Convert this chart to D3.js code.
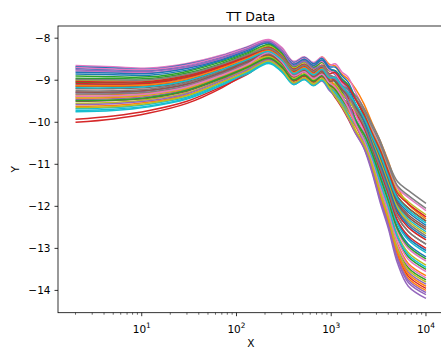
<!DOCTYPE html>
<html>
<head>
<meta charset="utf-8">
<script src="https://cdn.jsdelivr.net/npm/d3@7"></script>
<style>
  html, body { margin: 0; padding: 0; background: #fff; }
  svg { display: block; font-family: "DejaVu Sans", sans-serif; }
</style>
</head>
<body>
<div id="chart"></div>
<script>
const title = 'TT Data';
const xLabel = 'X';
const yLabel = 'Y';

// shared x grid, log spaced with extra points around the wiggles
const xs = [2, 5, 12, 30, 70, 130, 220, 300, 400, 520, 650, 800, 950, 1100, 1300, 1500, 1800, 2200, 2700, 3300, 4000, 5000, 6500, 10000];

// one array per run
const run00 = [-8.72, -8.75, -8.77, -8.65, -8.45, -8.24, -8.12, -8.32, -8.64, -8.52, -8.67, -8.54, -8.74, -8.87, -9.09, -9.29, -9.72, -10.14, -10.72, -11.28, -11.83, -12.50, -12.90, -13.20];
const run01 = [-9.35, -9.34, -9.30, -9.14, -8.86, -8.61, -8.35, -8.50, -8.80, -8.55, -8.65, -8.45, -8.62, -8.66, -8.86, -8.97, -9.20, -9.55, -10.02, -10.45, -10.92, -11.55, -11.95, -12.30];
const run02 = [-9.05, -9.06, -9.05, -8.91, -8.66, -8.44, -8.25, -8.45, -8.77, -8.65, -8.80, -8.68, -8.90, -9.04, -9.28, -9.50, -9.91, -10.30, -10.87, -11.48, -12.04, -12.76, -13.20, -13.50];
const run03 = [-9.93, -9.85, -9.72, -9.50, -9.15, -8.86, -8.55, -8.75, -9.07, -8.95, -9.10, -8.98, -9.20, -9.41, -9.66, -9.91, -10.25, -10.57, -11.08, -11.77, -12.35, -13.14, -13.66, -13.95];
const run04 = [-9.45, -9.44, -9.38, -9.22, -8.92, -8.67, -8.45, -8.68, -9.02, -8.90, -9.05, -9.00, -9.20, -9.35, -9.60, -9.87, -10.20, -10.60, -11.20, -11.92, -12.52, -13.35, -13.90, -14.19];
const run05 = [-9.15, -9.15, -9.13, -8.99, -8.73, -8.50, -8.30, -8.50, -8.83, -8.70, -8.86, -8.72, -8.92, -9.00, -9.22, -9.40, -9.73, -10.08, -10.57, -11.09, -11.63, -12.24, -12.60, -12.90];
const run06 = [-8.65, -8.68, -8.71, -8.60, -8.40, -8.20, -8.03, -8.22, -8.55, -8.44, -8.58, -8.45, -8.65, -8.61, -8.81, -8.92, -9.28, -9.68, -10.18, -10.58, -11.07, -11.56, -11.79, -12.10];
const run07 = [-9.25, -9.25, -9.21, -9.06, -8.79, -8.55, -8.38, -8.57, -8.88, -8.76, -8.90, -8.78, -8.95, -8.93, -9.13, -9.20, -9.36, -9.65, -10.05, -10.45, -10.95, -11.41, -11.62, -11.93];
const run08 = [-9.55, -9.53, -9.46, -9.30, -8.99, -8.73, -8.50, -8.70, -9.02, -8.90, -9.05, -8.92, -9.12, -9.28, -9.51, -9.72, -10.02, -10.34, -10.82, -11.41, -11.97, -12.67, -13.10, -13.40];
const run09 = [-9.75, -9.72, -9.63, -9.45, -9.12, -8.85, -8.60, -8.80, -9.10, -8.98, -9.12, -8.99, -9.18, -9.25, -9.47, -9.62, -9.80, -10.05, -10.43, -10.90, -11.42, -11.98, -12.30, -12.60];
const run10 = [-8.85, -8.87, -8.88, -8.76, -8.53, -8.32, -8.10, -8.30, -8.62, -8.50, -8.65, -8.52, -8.72, -8.82, -9.05, -9.23, -9.66, -10.08, -10.65, -11.19, -11.73, -12.37, -12.75, -13.05];
const run11 = [-9.62, -9.60, -9.52, -9.35, -9.04, -8.77, -8.42, -8.62, -8.92, -8.80, -8.96, -8.83, -9.05, -9.29, -9.54, -9.79, -10.19, -10.55, -11.11, -11.80, -12.39, -13.19, -13.71, -14.00];
const run12 = [-8.95, -8.96, -8.96, -8.83, -8.60, -8.38, -8.20, -8.40, -8.73, -8.62, -8.77, -8.66, -8.88, -9.03, -9.27, -9.51, -9.97, -10.39, -10.99, -11.64, -12.21, -12.97, -13.46, -13.75];
const run13 = [-10.00, -9.92, -9.78, -9.55, -9.18, -8.82, -8.50, -8.70, -9.02, -8.90, -9.04, -8.92, -9.12, -9.19, -9.40, -9.57, -9.81, -10.10, -10.52, -11.03, -11.55, -12.16, -12.50, -12.80];
const run14 = [-9.30, -9.30, -9.25, -9.10, -8.83, -8.58, -8.28, -8.50, -8.84, -8.72, -8.88, -8.78, -8.98, -9.13, -9.37, -9.62, -10.05, -10.45, -11.04, -11.70, -12.29, -13.06, -13.56, -13.85];
const run15 = [-9.50, -9.48, -9.42, -9.26, -8.96, -8.70, -8.48, -8.68, -9.00, -8.88, -9.02, -8.90, -9.09, -9.12, -9.33, -9.47, -9.69, -9.97, -10.38, -10.84, -11.35, -11.90, -12.20, -12.50];
const run16 = [-8.78, -8.80, -8.82, -8.70, -8.49, -8.28, -8.07, -8.28, -8.62, -8.50, -8.66, -8.54, -8.74, -8.83, -9.06, -9.27, -9.73, -10.17, -10.77, -11.35, -11.90, -12.59, -13.00, -13.30];
const run17 = [-9.10, -9.11, -9.09, -8.95, -8.69, -8.47, -8.33, -8.53, -8.85, -8.73, -8.88, -8.75, -8.95, -9.00, -9.22, -9.37, -9.67, -10.01, -10.48, -10.96, -11.49, -12.07, -12.40, -12.70];
const run18 = [-9.00, -9.01, -9.00, -8.87, -8.63, -8.41, -8.18, -8.38, -8.70, -8.58, -8.72, -8.58, -8.78, -8.77, -8.98, -9.10, -9.41, -9.76, -10.23, -10.64, -11.14, -11.64, -11.89, -12.20];
const run19 = [-9.68, -9.65, -9.57, -9.40, -9.07, -8.81, -8.56, -8.76, -9.08, -8.96, -9.10, -8.98, -9.18, -9.29, -9.52, -9.71, -9.95, -10.24, -10.67, -11.22, -11.76, -12.42, -12.80, -13.10];
const run20 = [-8.68, -8.71, -8.74, -8.62, -8.42, -8.22, -8.06, -8.26, -8.58, -8.46, -8.61, -8.48, -8.68, -8.69, -8.90, -9.04, -9.42, -9.83, -10.35, -10.80, -11.31, -11.86, -12.14, -12.45];
const run21 = [-9.42, -9.41, -9.35, -9.20, -8.90, -8.66, -8.40, -8.60, -8.92, -8.80, -8.95, -8.82, -9.02, -9.22, -9.45, -9.68, -10.05, -10.41, -10.94, -11.57, -12.15, -12.89, -13.36, -13.65];
const run22 = [-8.90, -8.92, -8.92, -8.79, -8.56, -8.35, -8.15, -8.35, -8.67, -8.55, -8.70, -8.57, -8.77, -8.77, -8.97, -9.11, -9.44, -9.81, -10.31, -10.74, -11.24, -11.77, -12.04, -12.35];
const run23 = [-9.08, -9.09, -9.07, -8.93, -8.68, -8.45, -8.28, -8.48, -8.80, -8.68, -8.83, -8.70, -8.90, -9.00, -9.22, -9.40, -9.75, -10.11, -10.62, -11.16, -11.69, -12.33, -12.70, -13.00];
const run24 = [-9.58, -9.56, -9.49, -9.32, -9.01, -8.75, -8.52, -8.74, -9.08, -8.96, -9.12, -9.02, -9.24, -9.38, -9.63, -9.88, -10.26, -10.60, -11.13, -11.83, -12.42, -13.23, -13.76, -14.05];
const run25 = [-9.20, -9.20, -9.17, -9.03, -8.76, -8.53, -8.36, -8.56, -8.88, -8.76, -8.91, -8.78, -8.98, -9.01, -9.22, -9.37, -9.64, -9.96, -10.40, -10.87, -11.38, -11.94, -12.25, -12.55];
const run26 = [-8.70, -8.73, -8.75, -8.64, -8.43, -8.23, -8.05, -8.26, -8.60, -8.48, -8.65, -8.55, -8.76, -8.85, -9.09, -9.31, -9.81, -10.26, -10.89, -11.51, -12.08, -12.80, -13.26, -13.55];
const run27 = [-9.33, -9.32, -9.28, -9.13, -8.85, -8.60, -8.36, -8.56, -8.86, -8.74, -8.88, -8.74, -8.92, -8.93, -9.13, -9.22, -9.42, -9.71, -10.11, -10.52, -11.01, -11.51, -11.74, -12.05];
const run28 = [-9.40, -9.39, -9.34, -9.18, -8.89, -8.64, -8.44, -8.64, -8.96, -8.84, -8.99, -8.86, -9.06, -9.10, -9.32, -9.47, -9.72, -10.02, -10.45, -10.93, -11.45, -12.03, -12.35, -12.65];
const run29 = [-9.72, -9.69, -9.61, -9.43, -9.10, -8.83, -8.58, -8.78, -9.10, -8.98, -9.13, -9.00, -9.20, -9.37, -9.60, -9.81, -10.09, -10.38, -10.84, -11.45, -12.01, -12.72, -13.15, -13.45];
const run30 = [-8.81, -8.83, -8.84, -8.72, -8.51, -8.29, -8.10, -8.30, -8.62, -8.50, -8.65, -8.52, -8.72, -8.78, -9.00, -9.16, -9.55, -9.96, -10.50, -11.00, -11.52, -12.11, -12.45, -12.75];
const run31 = [-9.13, -9.13, -9.11, -8.97, -8.71, -8.48, -8.30, -8.50, -8.82, -8.70, -8.85, -8.72, -8.92, -9.16, -9.40, -9.65, -10.08, -10.48, -11.06, -11.73, -12.32, -13.10, -13.61, -13.90];
const run32 = [-9.48, -9.47, -9.41, -9.24, -8.94, -8.69, -8.47, -8.67, -8.99, -8.87, -9.02, -8.89, -9.09, -9.22, -9.45, -9.65, -9.95, -10.27, -10.74, -11.32, -11.87, -12.54, -12.95, -13.25];
const run33 = [-9.03, -9.04, -9.03, -8.89, -8.65, -8.42, -8.22, -8.42, -8.74, -8.62, -8.77, -8.64, -8.84, -8.82, -9.03, -9.15, -9.45, -9.80, -10.26, -10.68, -11.17, -11.69, -11.94, -12.25];
const run34 = [-8.75, -8.78, -8.79, -8.68, -8.47, -8.26, -8.08, -8.30, -8.66, -8.55, -8.72, -8.66, -8.88, -8.97, -9.21, -9.48, -10.02, -10.49, -11.16, -11.86, -12.46, -13.27, -13.81, -14.10];
const run35 = [-9.28, -9.28, -9.24, -9.09, -8.81, -8.57, -8.40, -8.60, -8.92, -8.80, -8.95, -8.82, -9.02, -9.02, -9.22, -9.36, -9.59, -9.89, -10.31, -10.74, -11.24, -11.77, -12.04, -12.35];
const run36 = [-9.38, -9.37, -9.32, -9.16, -8.88, -8.63, -8.34, -8.56, -8.90, -8.80, -8.96, -8.86, -9.06, -9.16, -9.40, -9.64, -10.03, -10.41, -10.96, -11.61, -12.18, -12.93, -13.41, -13.70];
const run37 = [-8.98, -8.99, -8.99, -8.86, -8.62, -8.40, -8.24, -8.44, -8.76, -8.64, -8.79, -8.66, -8.86, -8.94, -9.16, -9.34, -9.69, -10.06, -10.57, -11.09, -11.62, -12.24, -12.60, -12.90];
const run38 = [-9.65, -9.63, -9.55, -9.37, -9.05, -8.79, -8.54, -8.74, -9.06, -8.94, -9.09, -8.96, -9.16, -9.38, -9.62, -9.86, -10.19, -10.51, -11.01, -11.67, -12.25, -13.01, -13.51, -13.80];
const run39 = [-9.18, -9.18, -9.15, -9.01, -8.75, -8.51, -8.32, -8.52, -8.84, -8.72, -8.87, -8.74, -8.94, -8.94, -9.15, -9.29, -9.56, -9.88, -10.33, -10.77, -11.28, -11.81, -12.09, -12.40];

const runs = [run00, run01, run02, run03, run04, run05, run06, run07, run08, run09,
              run10, run11, run12, run13, run14, run15, run16, run17, run18, run19,
              run20, run21, run22, run23, run24, run25, run26, run27, run28, run29,
              run30, run31, run32, run33, run34, run35, run36, run37, run38, run39];

// matplotlib default colour cycle
const palette = ['#1f77b4', '#ff7f0e', '#2ca02c', '#d62728', '#9467bd',
                 '#8c564b', '#e377c2', '#7f7f7f', '#bcbd22', '#17becf'];

const xTickPowers = [1, 2, 3, 4];
const yTicks = [-8, -9, -10, -11, -12, -13, -14];

const width = 441, height = 348;
const plot = { left: 58, top: 26, right: 443.5, bottom: 312.7 };

const svg = d3.select('#chart')
  .append('svg')
  .attr('width', width)
  .attr('height', height);

// x limits like matplotlib: 5% margin in log space
const lx0 = Math.log10(d3.min(xs));
const lx1 = Math.log10(d3.max(xs));
const pad = (lx1 - lx0) * 0.05;

const xScale = d3.scaleLog()
  .domain([Math.pow(10, lx0 - pad), Math.pow(10, lx1 + pad)])
  .range([plot.left, plot.right]);

const yScale = d3.scaleLinear()
  .domain([-14.53, -7.71])
  .range([plot.bottom, plot.top]);

svg.append('clipPath')
  .attr('id', 'clip')
  .append('rect')
  .attr('x', plot.left)
  .attr('y', plot.top)
  .attr('width', plot.right - plot.left)
  .attr('height', plot.bottom - plot.top);

const line = d3.line()
  .x(d => xScale(d[0]))
  .y(d => yScale(d[1]))
  .curve(d3.curveCatmullRom.alpha(0.5));

svg.append('g')
  .attr('clip-path', 'url(#clip)')
  .selectAll('path')
  .data(runs)
  .enter()
  .append('path')
  .attr('d', r => line(r.map((v, i) => [xs[i], v])))
  .attr('fill', 'none')
  .attr('stroke', (r, i) => palette[i % palette.length])
  .attr('stroke-width', 1.5)
  .attr('stroke-linejoin', 'round');

// frame
svg.append('rect')
  .attr('x', plot.left)
  .attr('y', plot.top)
  .attr('width', plot.right - plot.left)
  .attr('height', plot.bottom - plot.top)
  .attr('fill', 'none')
  .attr('stroke', '#000')
  .attr('stroke-width', 0.8);

// x ticks (major + minor)
const isMajor = v => Math.abs(Math.log10(v) - Math.round(Math.log10(v))) < 1e-9;
const [d0, d1] = xScale.domain();
const minor = xScale.ticks().filter(v => v >= d0 && v <= d1);
const xAxis = svg.append('g');
xAxis.selectAll('line')
  .data(minor)
  .enter()
  .append('line')
  .attr('x1', v => xScale(v))
  .attr('x2', v => xScale(v))
  .attr('y1', plot.bottom)
  .attr('y2', v => plot.bottom + (isMajor(v) ? 3.5 : 2))
  .attr('stroke', '#000')
  .attr('stroke-width', v => isMajor(v) ? 0.8 : 0.6);

const xt = xAxis.selectAll('text')
  .data(xTickPowers)
  .enter()
  .append('text')
  .attr('x', p => xScale(Math.pow(10, p)))
  .attr('y', 333)
  .attr('text-anchor', 'middle')
  .attr('font-size', '10.5px')
  .attr('fill', '#000');
xt.append('tspan').text('10');
xt.append('tspan')
  .attr('dy', -4.6)
  .attr('font-size', '7.4px')
  .text(p => p);

// y ticks
const yAxis = svg.append('g');
yAxis.selectAll('line')
  .data(yTicks)
  .enter()
  .append('line')
  .attr('x1', plot.left - 3.5)
  .attr('x2', plot.left)
  .attr('y1', v => yScale(v))
  .attr('y2', v => yScale(v))
  .attr('stroke', '#000')
  .attr('stroke-width', 0.8);
yAxis.selectAll('text')
  .data(yTicks)
  .enter()
  .append('text')
  .attr('x', plot.left - 7.5)
  .attr('y', v => yScale(v))
  .attr('dy', '0.36em')
  .attr('text-anchor', 'end')
  .attr('font-size', '10.5px')
  .attr('fill', '#000')
  .text(v => '\u2212' + Math.abs(v));

// labels and title
svg.append('text')
  .attr('x', (plot.left + plot.right) / 2)
  .attr('y', 346.5)
  .attr('text-anchor', 'middle')
  .attr('font-size', '10.5px')
  .text(xLabel);

svg.append('text')
  .attr('transform', `translate(18.5, ${(plot.top + plot.bottom) / 2}) rotate(-90)`)
  .attr('text-anchor', 'middle')
  .attr('font-size', '10.5px')
  .text(yLabel);

svg.append('text')
  .attr('x', (plot.left + plot.right) / 2)
  .attr('y', 20.5)
  .attr('text-anchor', 'middle')
  .attr('font-size', '12.5px')
  .text(title);
</script>
</body>
</html>
